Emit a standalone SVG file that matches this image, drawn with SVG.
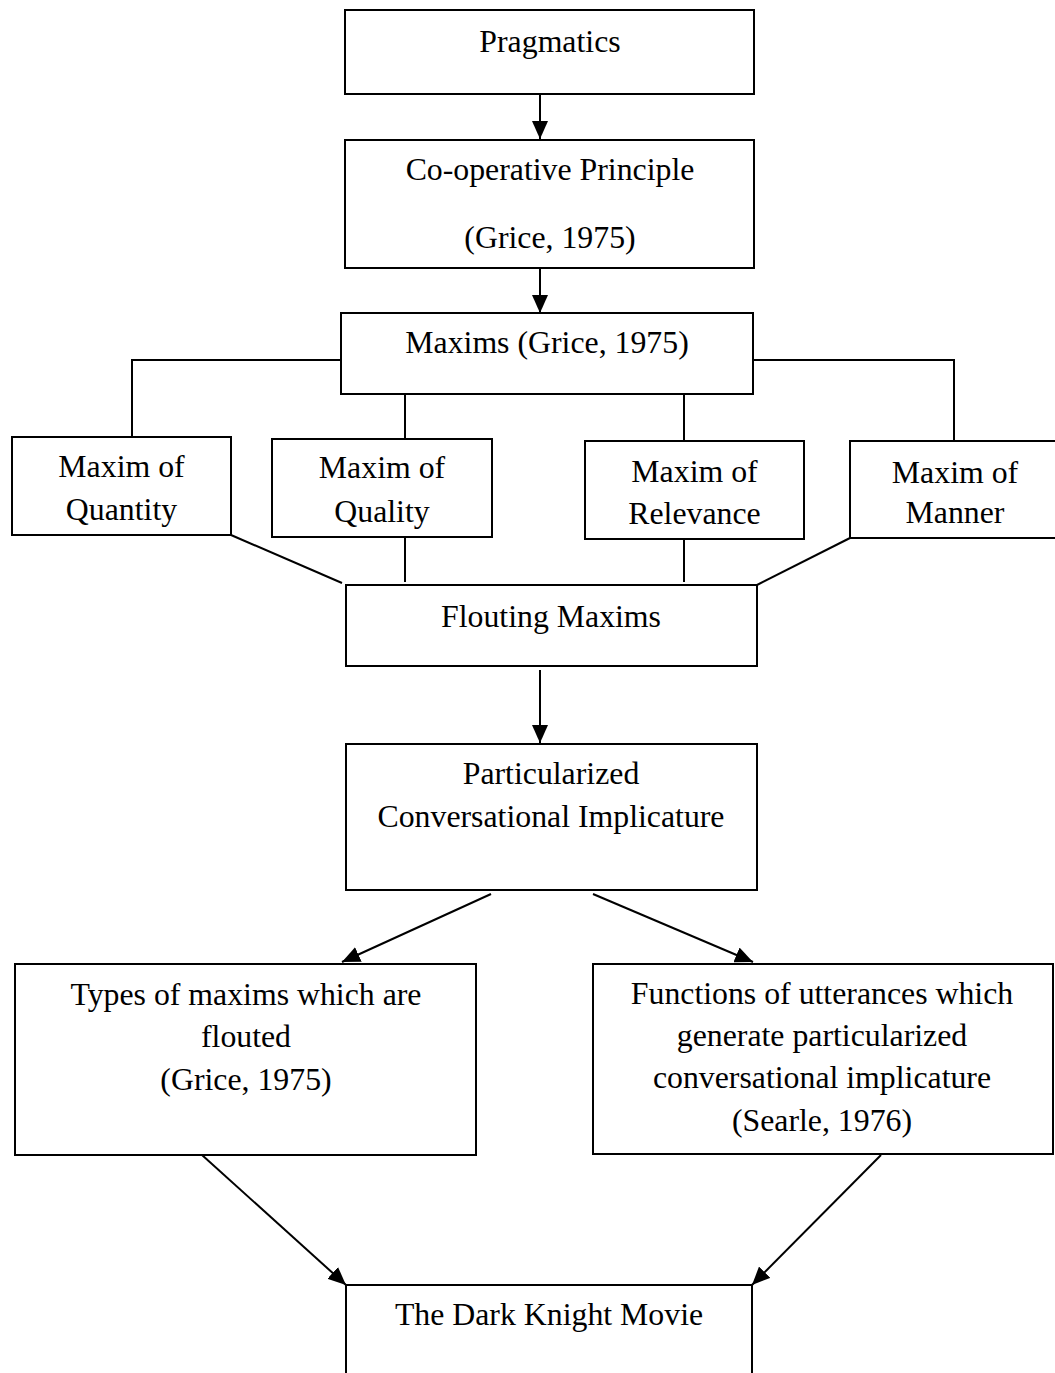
<svg xmlns="http://www.w3.org/2000/svg" width="1055" height="1373" viewBox="0 0 1055 1373">
<style>
rect.b{fill:#fff;stroke:#000;stroke-width:2}
text{font-family:"Liberation Serif","Times New Roman",serif;font-size:31.8px;fill:#000;text-anchor:middle}
.c{fill:none;stroke:#000;stroke-width:2}
</style>
<defs>
<marker id="ah" markerUnits="userSpaceOnUse" markerWidth="18" markerHeight="16" refX="18" refY="8" orient="auto">
<path d="M0,0 L18,8 L0,16 z" fill="#000"/>
</marker>
</defs>
<rect width="1055" height="1373" fill="#fff"/>
<g id="connectors">
<line class="c" x1="540" y1="94" x2="540" y2="139" marker-end="url(#ah)"/>
<line class="c" x1="540" y1="268" x2="540" y2="313" marker-end="url(#ah)"/>
<polyline class="c" points="341,360 132,360 132,438"/>
<line class="c" x1="405" y1="394" x2="405" y2="438"/>
<line class="c" x1="684" y1="394" x2="684" y2="440"/>
<polyline class="c" points="753,360 954,360 954,441"/>
<line class="c" x1="231" y1="535" x2="342" y2="583"/>
<line class="c" x1="405" y1="537" x2="405" y2="582"/>
<line class="c" x1="684" y1="539" x2="684" y2="582"/>
<line class="c" x1="850" y1="538" x2="757" y2="585"/>
<line class="c" x1="540" y1="670" x2="540" y2="743" marker-end="url(#ah)"/>
<line class="c" x1="491" y1="894" x2="342" y2="962" marker-end="url(#ah)"/>
<line class="c" x1="593" y1="894" x2="753" y2="962" marker-end="url(#ah)"/>
<line class="c" x1="202" y1="1155" x2="346" y2="1285" marker-end="url(#ah)"/>
<line class="c" x1="881" y1="1155" x2="752" y2="1285" marker-end="url(#ah)"/>
</g>
<g id="pragmatics">
<rect class="b" x="345" y="10" width="409" height="84"/>
<text x="550" y="52">Pragmatics</text>
</g>
<g id="cooperative">
<rect class="b" x="345" y="140" width="409" height="128"/>
<text x="550" y="180">Co-operative Principle</text>
<text x="550" y="248">(Grice, 1975)</text>
</g>
<g id="maxims">
<rect class="b" x="341" y="313" width="412" height="81"/>
<text x="547" y="353">Maxims (Grice, 1975)</text>
</g>
<g id="quantity">
<rect class="b" x="12" y="437" width="219" height="98"/>
<text x="121.5" y="477">Maxim of</text>
<text x="121.5" y="520">Quantity</text>
</g>
<g id="quality">
<rect class="b" x="272" y="439" width="220" height="98"/>
<text x="382" y="478">Maxim of</text>
<text x="382" y="522">Quality</text>
</g>
<g id="relevance">
<rect class="b" x="585" y="441" width="219" height="98"/>
<text x="694.5" y="482">Maxim of</text>
<text x="694.5" y="524">Relevance</text>
</g>
<g id="manner">
<rect class="b" x="850" y="441" width="215" height="97"/>
<text x="955" y="483">Maxim of</text>
<text x="955" y="523">Manner</text>
</g>
<g id="flouting">
<rect class="b" x="346" y="585" width="411" height="81"/>
<text x="551" y="627">Flouting Maxims</text>
</g>
<g id="particularized">
<rect class="b" x="346" y="744" width="411" height="146"/>
<text x="551" y="784">Particularized</text>
<text x="551" y="827">Conversational Implicature</text>
</g>
<g id="types">
<rect class="b" x="15" y="964" width="461" height="191"/>
<text x="246" y="1005">Types of maxims which are</text>
<text x="246" y="1047">flouted</text>
<text x="246" y="1090">(Grice, 1975)</text>
</g>
<g id="functions">
<rect class="b" x="593" y="964" width="460" height="190"/>
<text x="822" y="1004">Functions of utterances which</text>
<text x="822" y="1046">generate particularized</text>
<text x="822" y="1088">conversational implicature</text>
<text x="822" y="1131">(Searle, 1976)</text>
</g>
<g id="darkknight">
<path class="c" d="M346,1380 V1285 H752 V1380"/>
<text x="549" y="1325">The Dark Knight Movie</text>
</g>
</svg>
